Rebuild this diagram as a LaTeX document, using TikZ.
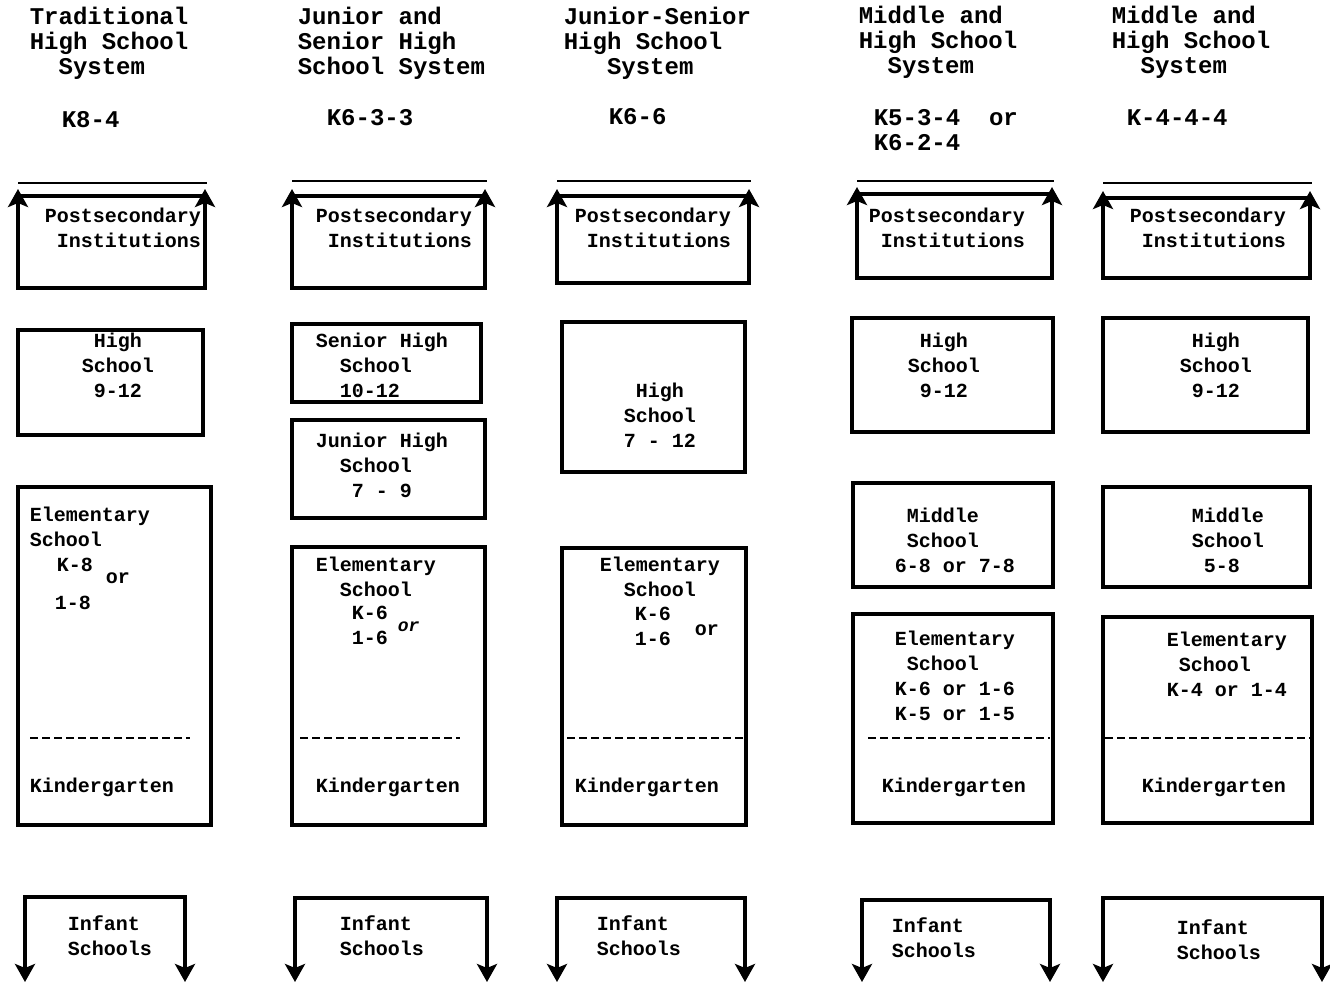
\documentclass[tikz,border=0pt]{standalone}
\usepackage{fontspec}
\setmonofont{Liberation Mono}
\usetikzlibrary{arrows.meta}

\begin{document}
\begin{tikzpicture}[x=0.5pt,y=-0.5pt,line width=1.8pt,
  >={Stealth[length=9pt,width=10pt,inset=2pt]},
  txt/.style={font=\ttfamily\bfseries\fontsize{10}{12.5}\selectfont,anchor=west,align=left,inner sep=0pt},
  head/.style={font=\ttfamily\bfseries\fontsize{12}{12.5}\selectfont,anchor=west,align=left,inner sep=0pt},
  kline/.style={line width=1.1pt,dash pattern=on 4pt off 2pt}]
  \useasboundingbox (0,0) rectangle (1330,986);

  % titles and plans
  \node[head] (title1) at (28,43) {Traditional\\High School\\\ \ System};
  \node[head] (title2) at (296,43) {Junior and\\Senior High\\School System};
  \node[head] (title3) at (562,43) {Junior-Senior\\High School\\\ \ \ System};
  \node[head] (title4) at (857,42) {Middle and\\High School\\\ \ System};
  \node[head] (title5) at (1110,42) {Middle and\\High School\\\ \ System};
  \node[head] (plan1) at (60,120) {K8-4};
  \node[head] (plan2) at (325,118) {K6-3-3};
  \node[head] (plan3) at (607,117) {K6-6};
  \node[head] (plan4) at (872,130) {K5-3-4\ \ or\\K6-2-4};
  \node[head] (plan5) at (1125,118) {K-4-4-4};

  % postsecondary
  \foreach \n/\l/\r/\h/\t/\b/\p in
  {
    1/18/205/183/196/288/43,
    2/292/485/181/196/288/314,
    3/557/749/181/196/283/573,
    4/857/1052/181/194/278/867,
    5/1103/1310/183/198/278/1128%
  }
  {
    \draw[line width=1.4pt] (\l,\h) -- (\r+2,\h);
    \draw[<->] (\l,\t-7) -- (\l,\b) -- (\r,\b) -- (\r,\t-7);
    \draw (\l,\t) -- (\r,\t);
    \node[txt] (post\n) at (\p,228) {Postsecondary\\\ Institutions};
  }

  % elementary and kindergarten
  \foreach \n/\l/\t/\r/\b/\k/\dl/\dr in
  {
    1/18/487/211/825/28/30/190,
    2/292/547/485/825/314/300/460,
    3/562/548/746/825/573/567/745,
    4/853/614/1053/823/880/868/1050,
    5/1103/617/1312/823/1140/1105/1310%
  }
  {
    \draw (\l,\t) rectangle (\r,\b);
    \draw[kline] (\dl,738) -- (\dr,738);
    \node[txt] (kind\n) at (\k,787) {Kindergarten};
  }

  % infant schools
  \foreach \n/\l/\r/\t/\x/\y in
  {
    1/25/185/897/66/936,
    2/295/487/898/338/936,
    3/557/745/898/595/936,
    4/862/1050/900/890/938,
    5/1103/1322/898/1175/940%
  }
  {
    \draw[<->] (\l,982) -- (\l,\t) -- (\r,\t) -- (\r,982);
    \node[txt] (inf\n) at (\x,\y) {Infant\\Schools};
  }

  % column 1
  \draw (18,330) rectangle (203,435);
  \node[txt] (high1) at (80,365) {\ High\\School\\\ 9-12};
  \node[txt] (elem1) at (28,527) {Elementary\\School};
  \node[txt] (elemk1) at (55,565) {K-8};
  \node[txt] (elemor1) at (104,578) {or};
  \node[txt] (elemf1) at (53,603) {1-8};

  % column 2
  \draw (292,324) rectangle (481,402);
  \node[txt] (senior2) at (314,365) {Senior High\\\ \ School\\\ \ 10-12};
  \draw (292,420) rectangle (485,518);
  \node[txt] (junior2) at (314,465) {Junior High\\\ \ School\\\ \ \ 7 - 9};
  \node[txt] (elem2) at (314,577) {Elementary\\\ \ School};
  \node[txt] (elemk2) at (350,625) {K-6\\1-6};
  \node[txt,font=\ttfamily\bfseries\itshape\fontsize{9}{10}\selectfont] (elemor2) at (396,627) {or};

  % column 3
  \draw (562,322) rectangle (745,472);
  \node[txt] (high3) at (622,415) {\ High\\School\\7 - 12};
  \node[txt] (elem3) at (598,577) {Elementary\\\ \ School};
  \node[txt] (elemk3) at (633,626) {K-6\\1-6};
  \node[txt] (elemor3) at (693,630) {or};

  % column 4
  \draw (852,318) rectangle (1053,432);
  \node[txt] (high4) at (906,365) {\ High\\School\\\ 9-12};
  \draw (853,483) rectangle (1053,587);
  \node[txt] (mid4) at (893,540) {\ Middle\\\ School\\6-8 or 7-8};
  \node[txt] (elem4) at (893,676) {Elementary\\\ School\\K-6 or 1-6\\K-5 or 1-5};

  % column 5
  \draw (1103,318) rectangle (1308,432);
  \node[txt] (high5) at (1178,365) {\ High\\School\\\ 9-12};
  \draw (1103,487) rectangle (1310,587);
  \node[txt] (mid5) at (1190,540) {Middle\\School\\\ 5-8};
  \node[txt] (elem5) at (1165,664) {Elementary\\\ School\\K-4 or 1-4};
\end{tikzpicture}
\end{document}
